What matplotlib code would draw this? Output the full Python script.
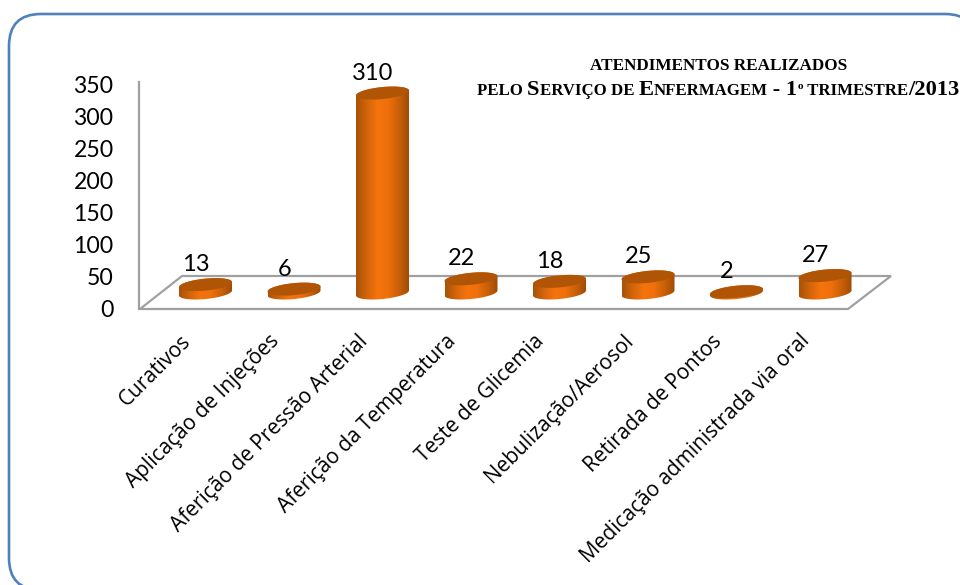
import numpy as np
import matplotlib
matplotlib.use('Agg')
import matplotlib.pyplot as plt
from matplotlib.patches import FancyBboxPatch, PathPatch, Polygon
from matplotlib.path import Path
from matplotlib.colors import LinearSegmentedColormap

categories = ['Curativos', 'Aplicação de Injeções', 'Aferição de Pressão Arterial',
              'Aferição da Temperatura', 'Teste de Glicemia', 'Nebulização/Aerosol',
              'Retirada de Pontos', 'Medicação administrada via oral']
values = [13, 6, 310, 22, 18, 25, 2, 27]
yticks = [0, 50, 100, 150, 200, 250, 300, 350]
title_small = 'ATENDIMENTOS REALIZADOS'
# small caps are faked with runs: (text, size)
title_runs = [('PELO ', 12.1), ('S', 16.2), ('ERVIÇO DE ', 12.1), ('E', 16.2), ('NFERMAGEM', 12.1),
              (' - 1', 16.2), ('o', 8), (' TRIMESTRE', 12.1), ('/2013', 16.2)]

W, H = 960, 585
plt.rcParams['font.family'] = ['Lato', 'DejaVu Sans']
fig = plt.figure(figsize=(W / 100, H / 100), dpi=100)

# page layer in pixels, y down
bg = fig.add_axes([0, 0, 1, 1])
bg.set_xlim(0, W)
bg.set_ylim(H, 0)
bg.axis('off')
bg.add_patch(FancyBboxPatch((9, 14), 968, 576, boxstyle='round,pad=0,rounding_size=32',
                            fc='white', ec='#4f81bd', lw=1.9, clip_on=True))
# floor and back wall
grey = '#a0a0a0'
bg.add_patch(Polygon([(140, 309), (182, 276), (891, 276), (848, 309)], closed=True,
                     fc='none', ec=grey, lw=1.6))
bg.plot([139, 139], [82, 309], color=grey, lw=1.6)

# px layout of the value scales
step = 88.5
x0 = 205.5


def mapped_axes(zero_px, px_per_unit):
    ax = fig.add_axes([0, 0, 1, 1], facecolor='none')
    ax.set_xlim(-x0 / step, (W - x0) / step)
    ax.set_ylim((zero_px - H) / px_per_unit, zero_px / px_per_unit)
    ax.axis('off')
    return ax


# tick axes: value 0 sits on the front floor edge
axt = mapped_axes(309, 223.7 / 350)
for v in yticks:
    axt.annotate(str(v), ((113.5 - x0) / step, v), xytext=(0, -1.5), textcoords='offset pixels',
                 ha='right', va='center', fontsize=16.6, color='black')
for i, c in enumerate(categories):
    axt.annotate(c, (i, 0), xytext=(-18, -29), textcoords='offset pixels', rotation=45,
                 rotation_mode='anchor', ha='right', va='center', family=['Open Sans', 'DejaVu Sans'],
                 fontsize=15, color='black')

# bars axes: value 0 sits in the middle of the floor
bar_scale = 0.645
ax = mapped_axes(293, bar_scale)
cmap = LinearSegmentedColormap.from_list('cyl', ['#a85208', '#d2650a', '#f4730c', '#f0700b', '#cb6108', '#a04c05'])
a = 26.5 / step
b = 6 / bar_scale
tilt = 2.5 / bar_scale
t = np.linspace(0, 2 * np.pi, 121)
grad = np.linspace(0, 1, 100).reshape(1, -1)
xl, yl = ax.get_xlim(), ax.get_ylim()

for i, v in enumerate(values):
    ex = a * np.cos(t)
    ey = b * np.sin(t) + tilt * np.cos(t)
    lower = t[(t >= np.pi) & (t <= 2 * np.pi)]
    upper = t[t <= np.pi]
    bx = np.r_[i + a * np.cos(lower), i + a * np.cos(upper)]
    by = np.r_[b * np.sin(lower) + tilt * np.cos(lower),
               v + b * np.sin(upper) + tilt * np.cos(upper)]
    body = PathPatch(Path(np.c_[bx, by]), fc='none', ec='none')
    ax.add_patch(body)
    im = ax.imshow(grad, cmap=cmap, aspect='auto', zorder=2,
                   extent=(i - a, i + a, -b - tilt, v + b + tilt))
    im.set_clip_path(body)
    ax.fill(i + ex, v + ey, color='#b05505', zorder=3, lw=0)
    ax.annotate(str(v), (i, v), xytext=(-9.5, 20), textcoords='offset pixels',
                ha='center', va='center', fontsize=17, color='black', zorder=4)
ax.set_xlim(xl)
ax.set_ylim(yl)

# title on top of everything, runs measured one after the other
top = fig.add_axes([0, 0, 1, 1], facecolor='none')
top.set_xlim(0, W)
top.set_ylim(H, 0)
top.axis('off')
serif = dict(family=['Liberation Serif', 'DejaVu Serif'], weight='bold', color='black', clip_on=False)
top.text(719, 70, title_small, ha='center', va='baseline', fontsize=12.3, **serif)
rend = fig.canvas.get_renderer()
cur = 477
for txt, size in title_runs:
    y = 95
    if txt == 'o':
        y = 89
    tt = top.text(cur, y, txt.replace(' ', '\u00a0'), ha='left', va='baseline', fontsize=size, **serif)
    cur = tt.get_window_extent(rend).x1

fig.savefig('out.png', dpi=100)
